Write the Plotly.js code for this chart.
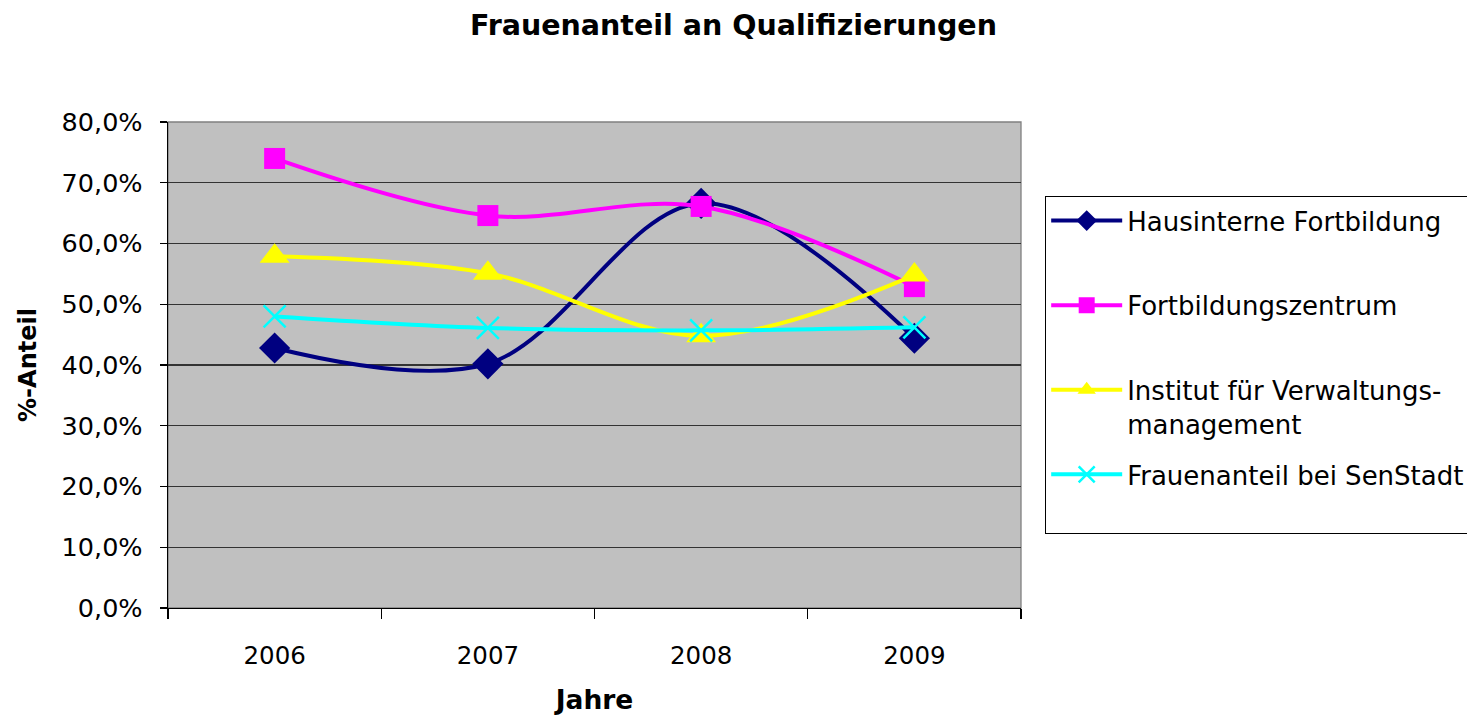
<!DOCTYPE html>
<html>
<head>
<meta charset="utf-8">
<script src="https://cdn.plot.ly/plotly-3.0.1.min.js"></script>
<style>html,body{margin:0;padding:0;background:#fff;}#chart{width:1467px;height:715px;}</style>
</head>
<body>
<div id="chart"></div>
<script>
const years = ['2006', '2007', '2008', '2009'];
const seriesNames = ['Hausinterne Fortbildung', 'Fortbildungszentrum', 'Institut für Verwaltungs-<br>management', 'Frauenanteil bei SenStadt'];
const hausinterne = [42.8, 40.2, 66.6, 44.4];
const fortbildungszentrum = [74.0, 64.6, 66.1, 52.9];
const institut = [57.9, 55.1, 44.8, 54.8];
const senstadt = [48.0, 46.1, 45.7, 46.2];

const FONT = 'DejaVu Sans, Arial, sans-serif';

function mk(name, y, color, symbol, size, group, xLine) {
  return {
    type: 'scatter', mode: 'lines+markers', name: name.includes('<br>') ? name : name + '<br>&nbsp;',
    x: years, y: y, legendgroup: group,
    line: {color: color, width: 4, shape: 'spline', smoothing: 1},
    marker: xLine ? {symbol: symbol, size: size, color: color, line: {color: color, width: 2.5}}
                  : {symbol: symbol, size: size, color: color, line: {width: 0}},
    hoverinfo: 'x+y'
  };
}

const data = [
  mk(seriesNames[0], hausinterne, '#000080', 'diamond', 24, 'a', false),
  mk(seriesNames[1], fortbildungszentrum, '#FF00FF', 'square', 21, 'b', false),
  mk(seriesNames[2], institut, '#FFFF00', 'triangle-up', 26, 'c', false),
  mk(seriesNames[3], senstadt, '#00FFFF', 'x-thin', 22, 'd', true)
];

const layout = {
  width: 1467, height: 715,
  margin: {l: 168, r: 446, t: 122, b: 107, autoexpand: false},
  paper_bgcolor: '#ffffff', plot_bgcolor: '#C0C0C0',
  separators: ',.',
  font: {family: FONT, size: 25, color: '#000'},
  title: {text: '<b>Frauenanteil an Qualifizierungen</b>', font: {family: FONT, size: 28.5, color: '#000'}, x: 0.5, xref: 'container', xanchor: 'center', y: 0.965, yref: 'container', yanchor: 'middle'},
  xaxis: {
    type: 'category', range: [-0.5, 3.5], tickson: 'boundaries',
    ticks: 'outside', ticklen: 10, tickwidth: 1.3, tickcolor: '#000',
    showline: true, linecolor: '#000', linewidth: 1.3,
    showgrid: false, zeroline: false, ticklabelstandoff: 25,
    tickfont: {family: FONT, size: 24.5, color: '#000'},
    title: {text: '<b>Jahre</b>', font: {family: FONT, size: 26.5, color: '#000'}, standoff: 29}
  },
  yaxis: {
    range: [0, 80], dtick: 10, tick0: 0, tickformat: '.1f', ticksuffix: '%',
    ticks: 'outside', ticklen: 7, tickwidth: 1.3, tickcolor: '#000',
    showline: true, linecolor: '#000', linewidth: 1.3,
    showgrid: true, gridcolor: '#333', gridwidth: 1.2, zeroline: false,
    ticklabelstandoff: 12,
    tickfont: {family: FONT, size: 25.5, color: '#000'},
    title: {text: '<b>%-Anteil</b>', font: {family: FONT, size: 24, color: '#000'}, standoff: 18}
  },
  shapes: [
    {type: 'rect', xref: 'paper', yref: 'paper', x0: 0, x1: 1, y0: 0, y1: 1, line: {color: '#808080', width: 1.3}, layer: 'below'}
  ],
  showlegend: true,
  legend: {
    x: 1.028, xanchor: 'left', y: 0.848, yanchor: 'top',
    bgcolor: '#ffffff', bordercolor: '#000', borderwidth: 1.3,
    font: {family: FONT, size: 26, color: '#000'},
    traceorder: 'grouped', tracegroupgap: 14, valign: 'top', itemwidth: 71
  }
};

Plotly.newPlot('chart', data, layout, {displayModeBar: false, staticPlot: true});
</script>
</body>
</html>
